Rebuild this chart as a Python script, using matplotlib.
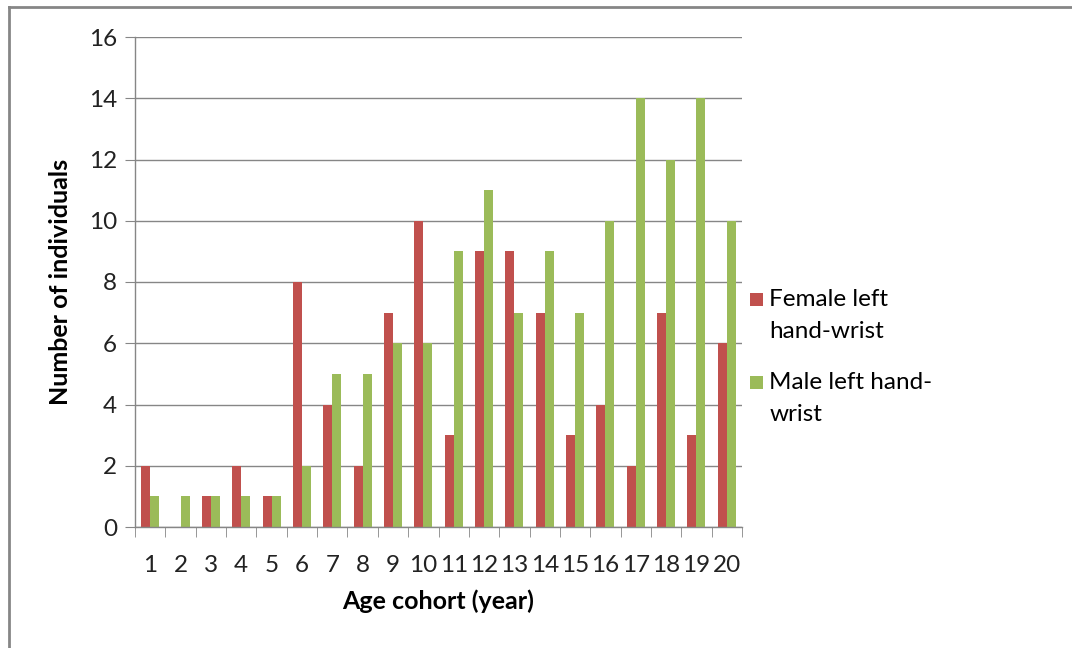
import matplotlib
matplotlib.use("Agg")
import matplotlib.pyplot as plt
from matplotlib.lines import Line2D
from matplotlib.patches import Rectangle
from matplotlib.legend_handler import HandlerPatch
from matplotlib.container import BarContainer
import numpy as np

categories = [str(i) for i in range(1, 21)]
female = [2, 0, 1, 2, 1, 8, 4, 2, 7, 10, 3, 9, 9, 7, 3, 4, 2, 7, 3, 6]
male = [1, 1, 1, 1, 1, 2, 5, 5, 6, 6, 9, 11, 7, 9, 7, 10, 14, 12, 14, 10]
series_labels = ["Female left\nhand-wrist", "Male left hand-\nwrist"]
yticks = [0, 2, 4, 6, 8, 10, 12, 14, 16]

plt.rcParams['font.family'] = ['Lato', 'DejaVu Sans']

fig = plt.figure(figsize=(10.72, 6.48), dpi=100)
ax = fig.add_axes([135/1072, 1-527/648, (742-135)/1072, (527-37)/648])

x = np.arange(len(categories))
w = 0.297
red = '#C0504D'
green = '#9BBB59'
ax.bar(x - w/2, female, width=w, color=red, label=series_labels[0], zorder=3)
ax.bar(x + w/2, male, width=w, color=green, label=series_labels[1], zorder=3)

ax.set_xlim(-0.5, len(categories) - 0.5)
ax.set_ylim(0, 16)
ax.set_yticks(yticks)
ax.set_yticklabels([str(v) for v in yticks], fontsize=17.5, color='#222222')
ax.set_xticks(x)
ax.set_xticklabels(categories, fontsize=17.5, color='#222222')
ax.set_xticks(np.arange(-0.5, len(categories)), minor=True)
ax.tick_params(axis='x', which='major', length=0, pad=20)
ax.tick_params(axis='x', which='minor', length=7, color='#868686', direction='out')
ax.tick_params(axis='y', length=7, color='#868686', pad=6)

ax.grid(axis='y', color='#868686', linewidth=1, zorder=0)
for s in ['top', 'right']:
    ax.spines[s].set_visible(False)
for s in ['left', 'bottom']:
    ax.spines[s].set_color('#868686')
    ax.spines[s].set_linewidth(1)
    ax.spines[s].set_zorder(4)

ax.set_xlabel('Age cohort (year)', fontsize=18, fontweight='bold', labelpad=10)
ax.set_ylabel('Number of individuals', fontsize=18, fontweight='bold', labelpad=12)

LS = 1.65
def top_square(legend, orig_handle, xdescent, ydescent, width, height, fontsize):
    s = 9.4
    return Rectangle((-xdescent, -ydescent + 11.9), s, s)

def upd(tgt, src):
    first = next(iter(src.get_children()), None)
    if first is not None:
        tgt.update_from(first)

leg = ax.legend(loc='upper left', bbox_to_anchor=(750/1072, 1-289/648),
                bbox_transform=fig.transFigure, frameon=False, fontsize=17.5,
                handlelength=0.54, handleheight=0.55, handletextpad=0.25,
                labelspacing=1.23, borderaxespad=0, borderpad=0,
                handler_map={BarContainer: HandlerPatch(patch_func=top_square, update_func=upd)})
for t in leg.get_texts():
    t.set_linespacing(LS)

# outer border (left and top visible)
fig.add_artist(Line2D([9/1072, 9/1072], [0, 1-7/648], transform=fig.transFigure, color='#868686', linewidth=2))
fig.add_artist(Line2D([9/1072, 1], [1-7/648, 1-7/648], transform=fig.transFigure, color='#868686', linewidth=2))

fig.savefig('out.png', dpi=100)
